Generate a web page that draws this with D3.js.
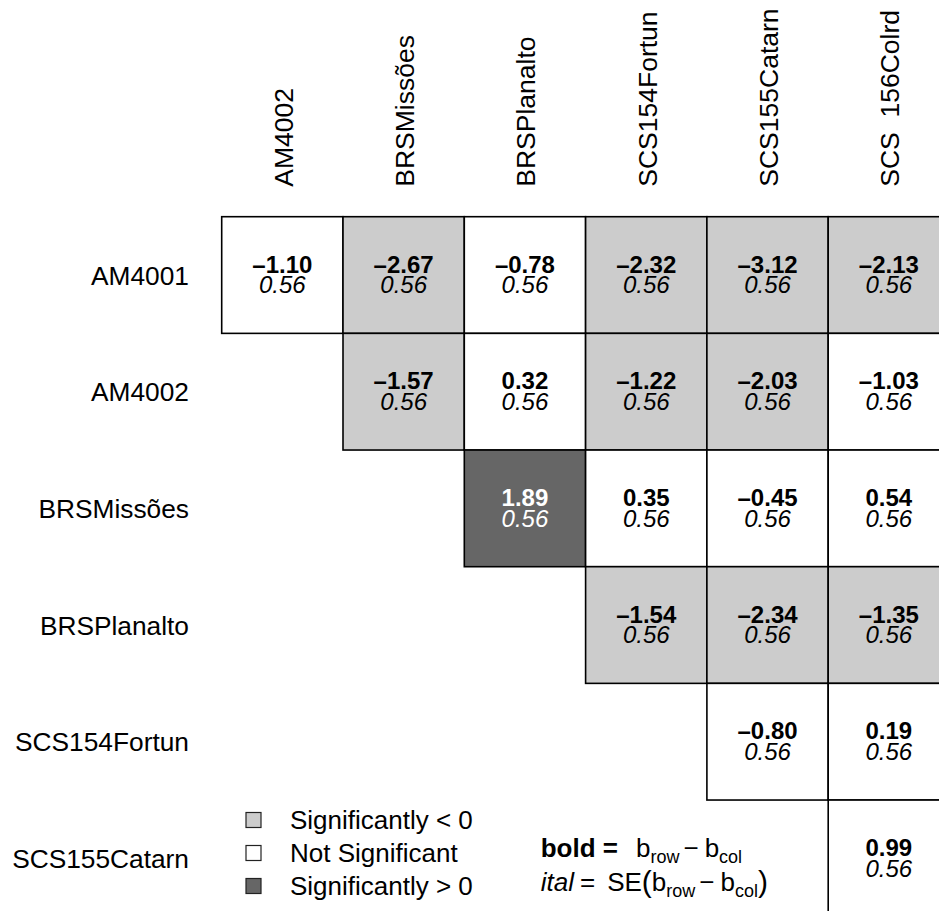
<!DOCTYPE html>
<html>
<head>
<meta charset="utf-8">
<script src="https://cdn.jsdelivr.net/npm/d3@7"></script>
<style>
  html, body { margin: 0; padding: 0; background: #fff; }
  svg { display: block; font-family: "Liberation Sans", Arial, Helvetica, sans-serif; }
  .collab { white-space: pre; }
</style>
</head>
<body>
<svg id="chart" width="939" height="911"></svg>
<script>
// Pairwise differences between genotype effects (row minus column)
const rowNames = ["AM4001", "AM4002", "BRSMissões", "BRSPlanalto", "SCS154Fortun", "SCS155Catarn"];
const colNames = ["AM4002", "BRSMissões", "BRSPlanalto", "SCS154Fortun", "SCS155Catarn", "SCS  156Colrd"];

// b_row - b_col, null where the pair is below the diagonal
const diffAM4001      = [-1.10, -2.67, -0.78, -2.32, -3.12, -2.13];
const diffAM4002      = [null, -1.57, 0.32, -1.22, -2.03, -1.03];
const diffBRSMissoes  = [null, null, 1.89, 0.35, -0.45, 0.54];
const diffBRSPlanalto = [null, null, null, -1.54, -2.34, -1.35];
const diffSCS154      = [null, null, null, null, -0.80, 0.19];
const diffSCS155      = [null, null, null, null, null, 0.99];

// standard error of each difference
const seAll = [0.56, 0.56, 0.56, 0.56, 0.56, 0.56];

// significance: -1 = significantly < 0, 0 = not significant, 1 = significantly > 0
const sigAM4001      = [0, -1, 0, -1, -1, -1];
const sigAM4002      = [null, -1, 0, -1, -1, 0];
const sigBRSMissoes  = [null, null, 1, 0, 0, 0];
const sigBRSPlanalto = [null, null, null, -1, -1, -1];
const sigSCS154      = [null, null, null, null, 0, 0];
const sigSCS155      = [null, null, null, null, null, 0];

const legendLabels = ["Significantly < 0", "Not Significant", "Significantly > 0"];
const legendCodes = [-1, 0, 1];

const diffRows = [diffAM4001, diffAM4002, diffBRSMissoes, diffBRSPlanalto, diffSCS154, diffSCS155];
const sigRows = [sigAM4001, sigAM4002, sigBRSMissoes, sigBRSPlanalto, sigSCS154, sigSCS155];

const cells = [];
rowNames.forEach((r, i) => {
  colNames.forEach((c, j) => {
    const v = diffRows[i][j];
    if (v !== null) cells.push({ row: r, col: c, diff: v, se: seAll[j], sig: sigRows[i][j] });
  });
});

const svg = d3.select("#chart");

const x = d3.scaleBand().domain(colNames).range([221.7, 949.5]);
const y = d3.scaleBand().domain(rowNames).range([216.7, 916.7]);

const fill = d3.scaleOrdinal().domain([-1, 0, 1]).range(["#cccccc", "#ffffff", "#666666"]);
const textCol = d3.scaleOrdinal().domain([-1, 0, 1]).range(["#000000", "#000000", "#ffffff"]);

const fmt = v => (v < 0 ? "\u2013" : "") + d3.format(".2f")(Math.abs(v));

// cells
const g = svg.append("g");
g.selectAll("rect.cell")
  .data(cells)
  .join("rect")
  .attr("class", "cell")
  .attr("x", d => x(d.col))
  .attr("y", d => y(d.row))
  .attr("width", x.bandwidth())
  .attr("height", y.bandwidth())
  .attr("fill", d => fill(d.sig))
  .attr("stroke", "#000")
  .attr("stroke-width", 1.6);

g.selectAll("text.diff")
  .data(cells)
  .join("text")
  .attr("class", "diff")
  .attr("x", d => x(d.col) + x.bandwidth() / 2)
  .attr("y", d => y(d.row) + y.bandwidth() / 2 - 2.3)
  .attr("text-anchor", "middle")
  .attr("font-size", 24)
  .attr("font-weight", "bold")
  .attr("fill", d => textCol(d.sig))
  .text(d => fmt(d.diff));

g.selectAll("text.se")
  .data(cells)
  .join("text")
  .attr("class", "se")
  .attr("x", d => x(d.col) + x.bandwidth() / 2)
  .attr("y", d => y(d.row) + y.bandwidth() / 2 + 18.3)
  .attr("text-anchor", "middle")
  .attr("font-size", 24)
  .attr("font-style", "italic")
  .attr("fill", d => textCol(d.sig))
  .text(d => d3.format(".2f")(d.se));

// row labels
svg.append("g").selectAll("text")
  .data(rowNames)
  .join("text")
  .attr("x", 189)
  .attr("y", d => y(d) + y.bandwidth() / 2 + 9.5)
  .attr("text-anchor", "end")
  .attr("font-size", 26.3)
  .text(d => d);

// column labels, rotated
svg.append("g").selectAll("text")
  .data(colNames)
  .join("text")
  .attr("class", "collab")
  .attr("transform", d => `translate(${x(d) + x.bandwidth() / 2 + 10.5},186.7) rotate(-90)`)
  .attr("text-anchor", "start")
  .attr("font-size", 26.5)
  .text(d => d);

// legend
const leg = svg.append("g");
const legY = [820, 853, 886];
leg.selectAll("rect")
  .data(legendCodes)
  .join("rect")
  .attr("x", 246)
  .attr("y", (d, i) => legY[i] - 7.5)
  .attr("width", 15)
  .attr("height", 15)
  .attr("fill", d => fill(d))
  .attr("stroke", "#222")
  .attr("stroke-width", 1.2);
leg.selectAll("text")
  .data(legendLabels)
  .join("text")
  .attr("x", 290)
  .attr("y", (d, i) => legY[i] + 9.3)
  .attr("font-size", 26)
  .text(d => d);

// formula key
const f1 = svg.append("text").attr("x", 540.7).attr("y", 856.7).attr("font-size", 26);
f1.append("tspan").attr("font-weight", "bold").text("bold =");
f1.append("tspan").attr("dx", 18).text("b");
f1.append("tspan").attr("font-size", 18).attr("dy", 6).text("row");
f1.append("tspan").attr("dy", -6).attr("dx", 4).text("\u2212");
f1.append("tspan").attr("dx", 6).text("b");
f1.append("tspan").attr("font-size", 18).attr("dy", 6).text("col");

const f2 = svg.append("text").attr("x", 540.7).attr("y", 891).attr("font-size", 26);
f2.append("tspan").attr("font-style", "italic").text("ital");
f2.append("tspan").attr("dx", 6).text("=");
f2.append("tspan").attr("dx", 12).text("SE");
f2.append("tspan").attr("font-size", 30).attr("dy", 1).text("(");
f2.append("tspan").attr("dy", -1).text("b");
f2.append("tspan").attr("font-size", 18).attr("dy", 6).text("row");
f2.append("tspan").attr("dy", -6).attr("dx", 4).text("\u2212");
f2.append("tspan").attr("dx", 6).text("b");
f2.append("tspan").attr("font-size", 18).attr("dy", 6).text("col");
f2.append("tspan").attr("font-size", 30).attr("dy", -5).text(")");
</script>
</body>
</html>
